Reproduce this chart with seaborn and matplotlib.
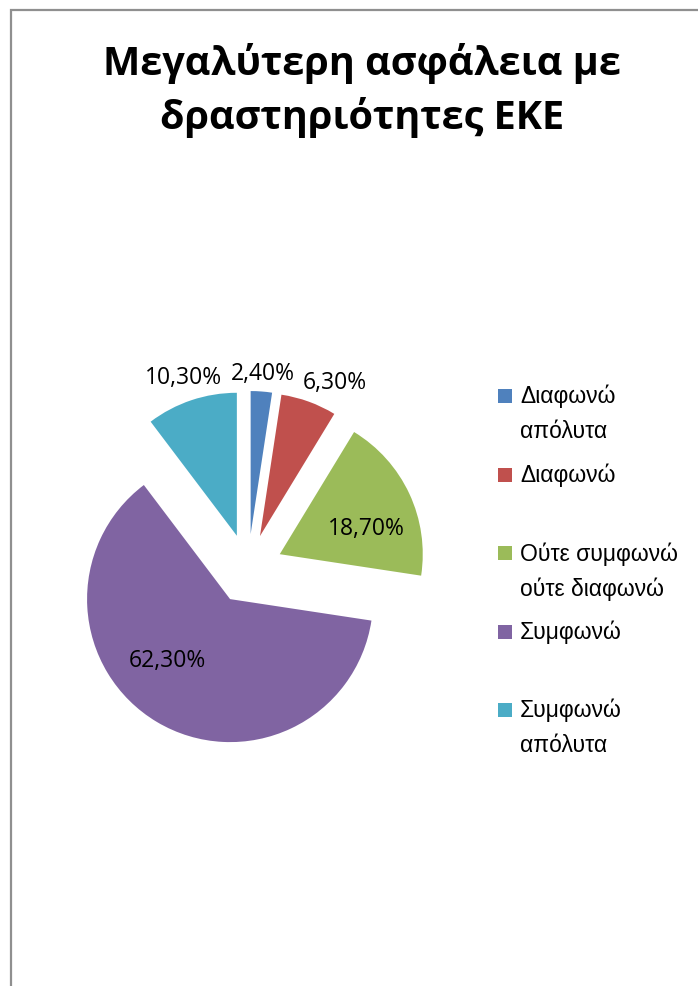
import numpy as np
import matplotlib
matplotlib.use("Agg")
import matplotlib.pyplot as plt
from matplotlib.patches import Rectangle
import seaborn as sns

# Survey answers and their shares (%)
categories = ["Διαφωνώ\nαπόλυτα", "Διαφωνώ", "Ούτε συμφωνώ\nούτε διαφωνώ", "Συμφωνώ", "Συμφωνώ\nαπόλυτα"]
shares = [2.4, 6.3, 18.7, 62.3, 10.3]
share_labels = ["2,40%", "6,30%", "18,70%", "62,30%", "10,30%"]
title = "Μεγαλύτερη ασφάλεια με\nδραστηριότητες ΕΚΕ"

sns.set_theme(style="white")
plt.rcParams["font.family"] = ["Open Sans", "DejaVu Sans"]
palette = sns.color_palette(["#4F81BD", "#C0504D", "#9BBB59", "#8064A2", "#4BACC6"])

W, H = 698, 987
fig = plt.figure(figsize=(W / 100, H / 100), dpi=100)
fig.patch.set_facecolor("white")

# chart frame (runs off the right and bottom edges)
fig.patches.append(Rectangle((10.5 / W, -0.05), 1.1, (H - 10.5) / H + 0.05,
                             transform=fig.transFigure, fill=False,
                             edgecolor="#8f8f8f", linewidth=1.6))

# pie axes: centre at (248, 570) px, radius 143 px
R = 143.0
cx, cy = 248.0, 570.0
half = 235.0
ax = fig.add_axes([(cx - half) / W, (H - cy - half) / H, 2 * half / W, 2 * half / H])

wedges, _ = ax.pie(shares, colors=palette, startangle=90, counterclock=False,
                   explode=[0.245] * len(shares), radius=1.0,
                   wedgeprops=dict(linewidth=0))
ax.set_xlim(-half / R, half / R)
ax.set_ylim(-half / R, half / R)
ax.set_aspect("equal")
ax.axis("off")

# label placement: radial distance and angular nudge per wedge
label_r = [1.13, 1.20, 0.63, 0.61, 1.17]
label_dtheta = [0, -6, -8, -15, 0]
for w, txt, r, dt in zip(wedges, share_labels, label_r, label_dtheta):
    mid = np.deg2rad((w.theta1 + w.theta2) / 2 + dt)
    x0, y0 = w.center
    ax.text(x0 + r * np.cos(mid), y0 + r * np.sin(mid), txt,
            ha="center", va="center", fontsize=16.5, color="black")

# title
fig.text(362 / W, 1 - 43 / H, title, ha="center", va="top",
         fontsize=28.5, fontweight="bold", linespacing=1.42, color="black")

# legend: evenly spaced entries with top-aligned text
leg_x, leg_y0, leg_step, sq = 498.0, 397.0, 78.5, 14.0
for i, (lab, col) in enumerate(zip(categories, palette)):
    yc = leg_y0 + i * leg_step
    fig.patches.append(Rectangle((leg_x / W, 1 - (yc + sq / 2) / H), sq / W, sq / H,
                                 transform=fig.transFigure, facecolor=col,
                                 edgecolor="none"))
    fig.text((leg_x + 22) / W, 1 - (yc - 12) / H, lab, ha="left", va="top",
             fontsize=16.5, linespacing=1.65, color="black",
             family=["Liberation Sans", "DejaVu Sans"])

fig.savefig("out.png", dpi=100, facecolor="white")
